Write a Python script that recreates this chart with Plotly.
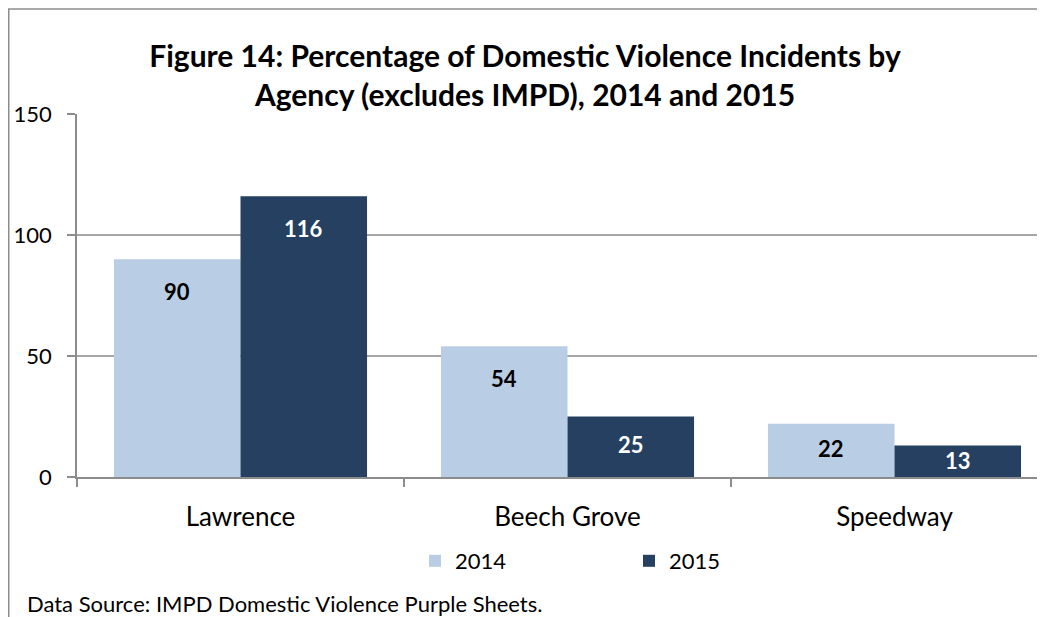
import plotly.graph_objects as go

categories = ["Lawrence", "Beech Grove", "Speedway"]
values_2014 = [90, 54, 22]
values_2015 = [116, 25, 13]
series_names = ["2014", "2015"]
y_ticks = [0, 50, 100, 150]

# The page body adds an 8px margin; work in reference-pixel coords and shift.
OX, OY = 8, 8
W, H = 1045 - OX, 617 - OY
L, T = 77 - OX, 114 - OY
B = H - (477 - OY)
R = 0
plot_w = W - L - R
plot_h = H - T - B
cat_px = 327.0
x_range = [-0.5, -0.5 + plot_w / cat_px]
y_range = [0, 150]

col_2014 = "#B9CDE5"
col_2015 = "#254061"
FONT = "Lato"
GRAY = "#8C8C8C"

fig = go.Figure()
for name, vals, col in [(series_names[0], values_2014, col_2014), (series_names[1], values_2015, col_2015)]:
    fig.add_trace(go.Bar(name=name, x=categories, y=vals, marker=dict(color=col, line=dict(width=0))))

# data labels (inside end)
px_per_unit = plot_h / (y_range[1] - y_range[0])
for vals, tcol, off in [(values_2014, "#000000", -0.193), (values_2015, "#FFFFFF", 0.193)]:
    for c, v in zip(categories, vals):
        hpx = v * px_per_unit
        shift = -min(32.5, 0.47 * hpx)
        fig.add_annotation(x=c, y=v, xref="x", yref="y", text=str(v), showarrow=False,
                           xshift=off * cat_px, yshift=shift, yanchor="middle",
                           font=dict(family=FONT, size=22, color=tcol, weight="bold"))


def px_x(p):
    return (p - OX - L) / plot_w


def px_y(p):
    return (H - B - (p - OY)) / plot_h


# outer border (left and top)
fig.add_shape(type="line", xref="paper", yref="paper", x0=px_x(8.75), x1=px_x(8.75), y0=px_y(9), y1=px_y(630),
              line=dict(color=GRAY, width=1.5))
fig.add_shape(type="line", xref="paper", yref="paper", x0=px_x(8), x1=px_x(1060), y0=px_y(9), y1=px_y(9),
              line=dict(color=GRAY, width=1.5))

fig.add_annotation(xref="paper", yref="paper", x=px_x(25), y=px_y(603), xanchor="left", yanchor="middle",
                   text="Data Source: IMPD Domestic Violence Purple Sheets.", showarrow=False,
                   font=dict(family=FONT, size=22, color="#000000"))

fig.update_layout(
    width=W, height=H,
    margin=dict(l=L, r=R, t=T, b=B, pad=0),
    paper_bgcolor="white", plot_bgcolor="white",
    barmode="group", bargap=0.226, bargroupgap=0,
    title=dict(text="Figure 14: Percentage of Domestic Violence Incidents by<br>Agency (excludes IMPD), 2014 and 2015",
               x=(525 - OX) / W, xanchor="center", y=1 - (67 - OY) / H, yanchor="middle", yref="container",
               font=dict(family=FONT, size=30, color="#000000", weight="bold")),
    font=dict(family=FONT, color="#000000"),
    legend=dict(orientation="h", x=px_x(415), xanchor="left", y=px_y(561), yanchor="middle",
                font=dict(family=FONT, size=22), itemwidth=30, traceorder="normal",
                entrywidthmode="pixels", entrywidth=169),
    showlegend=True,
)
fig.update_xaxes(range=x_range, showgrid=False, showline=True, linecolor=GRAY, linewidth=1.5,
                 ticks="outside", tickson="boundaries", ticklen=8, tickcolor=GRAY, tickwidth=1.5,
                 tickfont=dict(family=FONT, size=26, color="#000000"), ticklabelstandoff=16)
fig.update_yaxes(range=y_range, tickvals=y_ticks, showgrid=True, gridcolor="#A6A6A6", gridwidth=1.5,
                 showline=True, linecolor=GRAY, linewidth=1.5, zeroline=False,
                 ticks="outside", ticklen=8, tickcolor=GRAY, tickwidth=1.5,
                 tickfont=dict(family=FONT, size=22, color="#000000"), ticklabelstandoff=11)

fig.write_html("out.html")
